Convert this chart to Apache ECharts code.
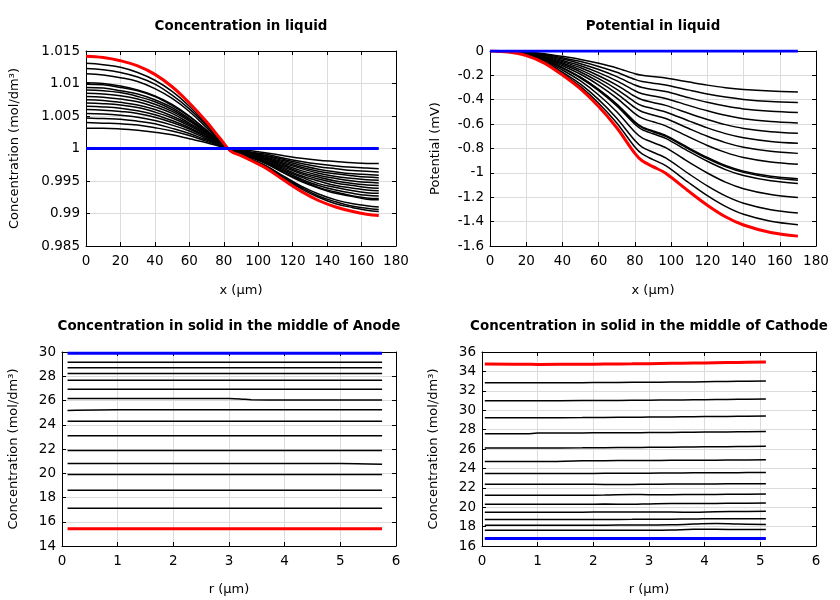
<!DOCTYPE html>
<html>
<head>
<meta charset="utf-8">
<script src="https://cdn.jsdelivr.net/npm/echarts@6/dist/echarts.min.js"></script>
<style>
  html, body { margin: 0; padding: 0; background: #fff; }
  #chart { width: 840px; height: 600px; }
</style>
</head>
<body>
<div id="chart"></div>
<script>
// ---------- Panel 1: Concentration in liquid ----------
const liqX = [0, 10, 20, 30, 40, 50, 60, 70, 78, 84, 90, 97, 105, 115, 125, 135, 145, 155, 163, 170];
const liqConcBlue = [1, 1, 1, 1, 1, 1, 1, 1, 1, 1, 1, 1, 1, 1, 1, 1, 1, 1, 1, 1];
const liqConcRed = [1.0142, 1.0140, 1.0135, 1.0127, 1.0114, 1.0095, 1.0070, 1.0041, 1.0015, 0.9996, 0.9989, 0.9980, 0.9969, 0.9951, 0.9934, 0.9920, 0.9910, 0.9903, 0.9899, 0.9897];
const liqConcBlack = [
  [1.0131, 1.0129, 1.0125, 1.0117, 1.0105, 1.0088, 1.0065, 1.0037, 1.0013, 0.9996, 0.9990, 0.9981, 0.9971, 0.9954, 0.9938, 0.9925, 0.9915, 0.9909, 0.9905, 0.9903],
  [1.0123, 1.0121, 1.0117, 1.0110, 1.0099, 1.0082, 1.0061, 1.0035, 1.0012, 0.9996, 0.9990, 0.9982, 0.9972, 0.9955, 0.9940, 0.9927, 0.9918, 0.9911, 0.9908, 0.9906],
  [1.0115, 1.0113, 1.0109, 1.0103, 1.0092, 1.0077, 1.0057, 1.0032, 1.0011, 0.9996, 0.9990, 0.9982, 0.9973, 0.9957, 0.9942, 0.9930, 0.9921, 0.9915, 0.9912, 0.9910],
  [1.0101, 1.0100, 1.0096, 1.0090, 1.0081, 1.0068, 1.0050, 1.0028, 1.0010, 0.9997, 0.9991, 0.9985, 0.9976, 0.9962, 0.9949, 0.9939, 0.9931, 0.9926, 0.9922, 0.9921],
  [1.0099, 1.0098, 1.0094, 1.0089, 1.0080, 1.0066, 1.0049, 1.0028, 1.0010, 0.9997, 0.9992, 0.9985, 0.9977, 0.9963, 0.9951, 0.9940, 0.9933, 0.9927, 0.9924, 0.9923],
  [1.0094, 1.0093, 1.0089, 1.0084, 1.0075, 1.0063, 1.0046, 1.0026, 1.0009, 0.9997, 0.9992, 0.9986, 0.9978, 0.9965, 0.9953, 0.9943, 0.9936, 0.9931, 0.9928, 0.9927],
  [1.0090, 1.0089, 1.0086, 1.0080, 1.0072, 1.0060, 1.0044, 1.0025, 1.0009, 0.9997, 0.9993, 0.9987, 0.9979, 0.9967, 0.9956, 0.9946, 0.9940, 0.9935, 0.9932, 0.9931],
  [1.0085, 1.0084, 1.0081, 1.0076, 1.0068, 1.0057, 1.0042, 1.0024, 1.0008, 0.9997, 0.9993, 0.9987, 0.9980, 0.9969, 0.9958, 0.9950, 0.9943, 0.9939, 0.9936, 0.9935],
  [1.0080, 1.0079, 1.0076, 1.0072, 1.0064, 1.0054, 1.0039, 1.0023, 1.0008, 0.9998, 0.9993, 0.9988, 0.9982, 0.9971, 0.9961, 0.9953, 0.9947, 0.9943, 0.9940, 0.9939],
  [1.0075, 1.0074, 1.0071, 1.0067, 1.0060, 1.0050, 1.0037, 1.0021, 1.0007, 0.9998, 0.9994, 0.9989, 0.9983, 0.9973, 0.9963, 0.9956, 0.9950, 0.9946, 0.9944, 0.9943],
  [1.0070, 1.0069, 1.0067, 1.0063, 1.0056, 1.0047, 1.0035, 1.0020, 1.0007, 0.9998, 0.9994, 0.9990, 0.9984, 0.9975, 0.9966, 0.9959, 0.9954, 0.9950, 0.9948, 0.9947],
  [1.0065, 1.0064, 1.0062, 1.0058, 1.0052, 1.0043, 1.0032, 1.0018, 1.0006, 0.9998, 0.9995, 0.9991, 0.9985, 0.9977, 0.9969, 0.9962, 0.9957, 0.9954, 0.9952, 0.9951],
  [1.0060, 1.0059, 1.0057, 1.0054, 1.0048, 1.0040, 1.0030, 1.0017, 1.0006, 0.9998, 0.9995, 0.9991, 0.9986, 0.9979, 0.9971, 0.9965, 0.9961, 0.9958, 0.9956, 0.9955],
  [1.0054, 1.0053, 1.0051, 1.0048, 1.0043, 1.0036, 1.0027, 1.0015, 1.0005, 0.9998, 0.9996, 0.9992, 0.9988, 0.9981, 0.9974, 0.9968, 0.9964, 0.9961, 0.9960, 0.9959],
  [1.0047, 1.0046, 1.0045, 1.0042, 1.0038, 1.0031, 1.0023, 1.0013, 1.0005, 0.9999, 0.9996, 0.9993, 0.9989, 0.9983, 0.9977, 0.9972, 0.9969, 0.9966, 0.9965, 0.9964],
  [1.0040, 1.0039, 1.0038, 1.0036, 1.0032, 1.0027, 1.0020, 1.0011, 1.0004, 0.9999, 0.9997, 0.9994, 0.9991, 0.9985, 0.9980, 0.9976, 0.9973, 0.9971, 0.9970, 0.9969],
  [1.0031, 1.0031, 1.0030, 1.0028, 1.0025, 1.0021, 1.0015, 1.0009, 1.0003, 0.9999, 0.9998, 0.9996, 0.9993, 0.9989, 0.9985, 0.9982, 0.9980, 0.9978, 0.9977, 0.9977]
];

// ---------- Panel 2: Potential in liquid ----------
const potX = [0, 10, 20, 30, 40, 50, 60, 70, 80, 84, 90, 97, 110, 120, 130, 140, 155, 170];
const potBlue = [0, 0, 0, 0, 0, 0, 0, 0, 0, 0, 0, 0, 0, 0, 0, 0, 0, 0];
const potRed = [0, -0.009, -0.038, -0.099, -0.197, -0.311, -0.456, -0.630, -0.840, -0.901, -0.949, -1.003, -1.154, -1.265, -1.360, -1.428, -1.489, -1.519];
const potBlack = [
  [0, -0.002, -0.008, -0.022, -0.044, -0.069, -0.101, -0.139, -0.186, -0.199, -0.210, -0.222, -0.255, -0.280, -0.301, -0.316, -0.329, -0.336],
  [0, -0.003, -0.011, -0.027, -0.055, -0.087, -0.127, -0.175, -0.233, -0.250, -0.264, -0.279, -0.321, -0.352, -0.378, -0.397, -0.414, -0.422],
  [0, -0.003, -0.013, -0.033, -0.066, -0.104, -0.152, -0.210, -0.279, -0.299, -0.316, -0.333, -0.384, -0.421, -0.452, -0.475, -0.495, -0.505],
  [0, -0.004, -0.015, -0.038, -0.077, -0.121, -0.177, -0.245, -0.326, -0.350, -0.369, -0.389, -0.448, -0.491, -0.528, -0.555, -0.578, -0.590],
  [0, -0.004, -0.017, -0.044, -0.088, -0.138, -0.203, -0.280, -0.373, -0.400, -0.422, -0.446, -0.513, -0.562, -0.604, -0.635, -0.662, -0.675],
  [0, -0.005, -0.019, -0.049, -0.098, -0.155, -0.227, -0.314, -0.419, -0.449, -0.473, -0.500, -0.575, -0.631, -0.678, -0.712, -0.742, -0.757],
  [0, -0.005, -0.021, -0.055, -0.109, -0.172, -0.252, -0.349, -0.465, -0.498, -0.525, -0.554, -0.638, -0.700, -0.752, -0.790, -0.823, -0.840],
  [0, -0.006, -0.023, -0.060, -0.121, -0.191, -0.279, -0.386, -0.514, -0.551, -0.581, -0.614, -0.707, -0.775, -0.832, -0.874, -0.911, -0.930],
  [0, -0.006, -0.026, -0.068, -0.136, -0.215, -0.315, -0.435, -0.580, -0.622, -0.656, -0.692, -0.797, -0.874, -0.939, -0.986, -1.028, -1.049],
  [0, -0.006, -0.027, -0.069, -0.138, -0.217, -0.318, -0.440, -0.586, -0.629, -0.663, -0.700, -0.806, -0.883, -0.949, -0.996, -1.039, -1.060],
  [0, -0.007, -0.027, -0.071, -0.141, -0.223, -0.326, -0.451, -0.601, -0.645, -0.679, -0.717, -0.826, -0.905, -0.973, -1.022, -1.065, -1.087],
  [0, -0.007, -0.030, -0.078, -0.156, -0.246, -0.361, -0.499, -0.665, -0.713, -0.751, -0.793, -0.914, -1.001, -1.076, -1.130, -1.178, -1.202],
  [0, -0.008, -0.033, -0.086, -0.173, -0.272, -0.399, -0.552, -0.735, -0.788, -0.831, -0.877, -1.010, -1.107, -1.189, -1.249, -1.302, -1.329],
  [0, -0.009, -0.036, -0.093, -0.185, -0.292, -0.428, -0.591, -0.788, -0.845, -0.891, -0.941, -1.083, -1.187, -1.275, -1.340, -1.397, -1.425]
];

// ---------- Panel 3: Concentration in solid, middle of Anode ----------
const anodeR = [0.1, 1, 2, 3, 3.2, 3.4, 4, 5, 5.75];
const anodeBlue = [29.9, 29.9, 29.9, 29.9, 29.9, 29.9, 29.9, 29.9, 29.9];
const anodeRed = [15.43, 15.43, 15.43, 15.43, 15.43, 15.43, 15.43, 15.43, 15.43];
const anodeBlack = [
  [29.15, 29.15, 29.15, 29.15, 29.15, 29.15, 29.15, 29.15, 29.15],
  [28.71, 28.71, 28.71, 28.71, 28.71, 28.71, 28.71, 28.71, 28.71],
  [28.22, 28.22, 28.22, 28.22, 28.22, 28.22, 28.22, 28.22, 28.22],
  [27.66, 27.66, 27.66, 27.66, 27.66, 27.66, 27.66, 27.66, 27.66],
  [26.92, 26.92, 26.92, 26.92, 26.92, 26.92, 26.92, 26.92, 26.92],
  [26.16, 26.16, 26.16, 26.16, 26.13, 26.06, 26.05, 26.05, 26.05],
  [25.18, 25.23, 25.23, 25.23, 25.23, 25.23, 25.23, 25.23, 25.23],
  [24.28, 24.28, 24.28, 24.28, 24.28, 24.28, 24.28, 24.28, 24.28],
  [23.10, 23.10, 23.10, 23.10, 23.10, 23.10, 23.10, 23.10, 23.10],
  [21.88, 21.88, 21.88, 21.88, 21.88, 21.88, 21.88, 21.88, 21.88],
  [20.80, 20.80, 20.80, 20.80, 20.80, 20.80, 20.80, 20.80, 20.74],
  [19.90, 19.90, 19.90, 19.90, 19.90, 19.90, 19.90, 19.90, 19.90],
  [18.60, 18.60, 18.60, 18.60, 18.60, 18.60, 18.60, 18.60, 18.60],
  [17.12, 17.12, 17.12, 17.12, 17.12, 17.12, 17.12, 17.12, 17.12]
];

// ---------- Panel 4: Concentration in solid, middle of Cathode ----------
const cathodeR = [0.05, 0.8, 1.0, 1.8, 2.2, 2.7, 3.0, 3.4, 3.8, 4.2, 4.6, 5.1];
const cathodeBlue = [16.78, 16.78, 16.78, 16.78, 16.78, 16.78, 16.78, 16.78, 16.78, 16.78, 16.78, 16.78];
const cathodeRed = [34.76, 34.73, 34.72, 34.74, 34.76, 34.78, 34.80, 34.83, 34.86, 34.89, 34.92, 34.96];
const cathodeBlack = [
  [32.83, 32.83, 32.83, 32.84, 32.85, 32.87, 32.88, 32.90, 32.92, 32.95, 32.98, 33.01],
  [30.98, 30.98, 30.98, 30.99, 31.00, 31.02, 31.03, 31.05, 31.07, 31.10, 31.12, 31.15],
  [29.23, 29.23, 29.23, 29.24, 29.26, 29.28, 29.29, 29.31, 29.33, 29.35, 29.37, 29.40],
  [27.56, 27.56, 27.65, 27.66, 27.67, 27.68, 27.69, 27.71, 27.73, 27.75, 27.77, 27.80],
  [26.11, 26.11, 26.11, 26.12, 26.14, 26.16, 26.17, 26.19, 26.21, 26.23, 26.25, 26.28],
  [24.71, 24.71, 24.71, 24.78, 24.80, 24.81, 24.82, 24.83, 24.84, 24.85, 24.86, 24.88],
  [23.47, 23.47, 23.47, 23.48, 23.49, 23.50, 23.51, 23.53, 23.54, 23.55, 23.56, 23.58],
  [22.37, 22.37, 22.37, 22.37, 22.34, 22.35, 22.37, 22.38, 22.39, 22.40, 22.41, 22.42],
  [21.22, 21.22, 21.22, 21.23, 21.25, 21.31, 21.29, 21.29, 21.31, 21.32, 21.34, 21.36],
  [20.31, 20.31, 20.31, 20.31, 20.32, 20.30, 20.34, 20.38, 20.37, 20.39, 20.41, 20.43],
  [19.48, 19.48, 19.48, 19.49, 19.50, 19.51, 19.50, 19.51, 19.47, 19.53, 19.55, 19.57],
  [18.73, 18.73, 18.73, 18.73, 18.74, 18.75, 18.76, 18.77, 18.78, 18.82, 18.81, 18.81],
  [18.15, 18.15, 18.15, 18.15, 18.15, 18.16, 18.17, 18.19, 18.26, 18.32, 18.26, 18.22],
  [17.62, 17.62, 17.62, 17.62, 17.62, 17.62, 17.62, 17.64, 17.72, 17.72, 17.70, 17.69]
];

// ---------- Titles / axis labels ----------
const panelTitles = [
  'Concentration in liquid',
  'Potential in liquid',
  'Concentration in solid in the middle of Anode',
  'Concentration in solid in the middle of Cathode'
];
const xNames = ['x (µm)', 'x (µm)', 'r (µm)', 'r (µm)'];
const yNames = ['Concentration (mol/dm³)', 'Potential (mV)', 'Concentration (mol/dm³)', 'Concentration (mol/dm³)'];

// ---------- Layout ----------
const FONT = '"DejaVu Sans", "Liberation Sans", sans-serif';
const grids = [
  { left: 86, top: 51, width: 310, height: 195 },
  { left: 490, top: 51, width: 326, height: 195 },
  { left: 62, top: 352, width: 334, height: 194 },
  { left: 482, top: 352, width: 334, height: 194 }
];
const xRanges = [[0, 180, 20], [0, 180, 20], [0, 6, 1], [0, 6, 1]];
const yRanges = [[0.985, 1.015, 0.005], [-1.6, 0, 0.2], [14, 30, 2], [16, 36, 2]];
const yNameGaps = [65, 48, 42, 42];
const xNameGaps = [38, 38, 37, 37];
const titleCenters = [[241, 26.5], [653, 26.5], [229, 326.5], [649, 326.5]];

const axisLineStyle = { color: '#000', width: 1 };
const xAxes = [], yAxes = [];
for (let i = 0; i < 4; i++) {
  const [xmin, xmax, xint] = xRanges[i];
  const [ymin, ymax, yint] = yRanges[i];
  xAxes.push({
    type: 'value', gridIndex: i, position: 'bottom', min: xmin, max: xmax, interval: xint,
    axisLine: { show: true, onZero: false, lineStyle: axisLineStyle },
    axisTick: { show: true, inside: true, length: 4, lineStyle: axisLineStyle },
    axisLabel: { color: '#000', fontSize: 13.5, fontFamily: FONT, margin: 8 },
    splitLine: { show: true, lineStyle: { color: '#dcdcdc', width: 1 } },
    name: xNames[i], nameLocation: 'middle', nameGap: xNameGaps[i],
    nameTextStyle: { color: '#000', fontSize: 13, fontFamily: FONT }
  });
  xAxes.push({
    type: 'value', gridIndex: i, position: 'top', min: xmin, max: xmax, interval: xint,
    axisLine: { show: true, onZero: false, lineStyle: axisLineStyle },
    axisTick: { show: true, inside: true, length: 4, lineStyle: axisLineStyle },
    axisLabel: { show: false }, splitLine: { show: false }
  });
  yAxes.push({
    type: 'value', gridIndex: i, position: 'left', min: ymin, max: ymax, interval: yint,
    axisLine: { show: true, onZero: false, lineStyle: axisLineStyle },
    axisTick: { show: true, inside: true, length: 4, lineStyle: axisLineStyle },
    axisLabel: { color: '#000', fontSize: 13.5, fontFamily: FONT, margin: 6 },
    splitLine: { show: true, lineStyle: { color: '#dcdcdc', width: 1 } },
    name: yNames[i], nameLocation: 'middle', nameGap: yNameGaps[i], nameRotate: 90,
    nameTextStyle: { color: '#000', fontSize: 13, fontFamily: FONT }
  });
  yAxes.push({
    type: 'value', gridIndex: i, position: 'right', min: ymin, max: ymax, interval: yint,
    axisLine: { show: true, onZero: false, lineStyle: axisLineStyle },
    axisTick: { show: true, inside: true, length: 4, lineStyle: axisLineStyle },
    axisLabel: { show: false }, splitLine: { show: false }
  });
}

const series = [];
function addLine(panel, xs, ys, color, width, smooth) {
  series.push({
    type: 'line', xAxisIndex: panel * 2, yAxisIndex: panel * 2,
    data: xs.map((x, k) => [x, ys[k]]),
    showSymbol: false, symbol: 'none', smooth: smooth,
    lineStyle: { color: color, width: width }, silent: true, z: width > 2 ? 3 : 2
  });
}
const panels = [
  { xs: liqX, black: liqConcBlack, red: liqConcRed, blue: liqConcBlue, smooth: 0.4 },
  { xs: potX, black: potBlack, red: potRed, blue: potBlue, smooth: 0.3 },
  { xs: anodeR, black: anodeBlack, red: anodeRed, blue: anodeBlue, smooth: 0.3 },
  { xs: cathodeR, black: cathodeBlack, red: cathodeRed, blue: cathodeBlue, smooth: 0.4 }
];
panels.forEach((p, i) => {
  p.black.forEach(ys => addLine(i, p.xs, ys, '#000000', 1.5, p.smooth));
  addLine(i, p.xs, p.red, '#ff0000', 3, p.smooth);
  addLine(i, p.xs, p.blue, '#0000ff', 3, p.smooth);
});

const graphic = panelTitles.map((t, i) => ({
  type: 'text', x: titleCenters[i][0], y: titleCenters[i][1],
  style: {
    text: t, fill: '#000', font: 'bold 13.4px ' + FONT,
    textAlign: 'center', textVerticalAlign: 'middle', align: 'center', verticalAlign: 'middle'
  }
}));

const chart = echarts.init(document.getElementById('chart'), null, { renderer: 'canvas' });
chart.setOption({
  animation: false,
  backgroundColor: '#ffffff',
  grid: grids.map(g => Object.assign({ containLabel: false }, g)),
  xAxis: xAxes,
  yAxis: yAxes,
  series: series,
  graphic: graphic
});
</script>
</body>
</html>
